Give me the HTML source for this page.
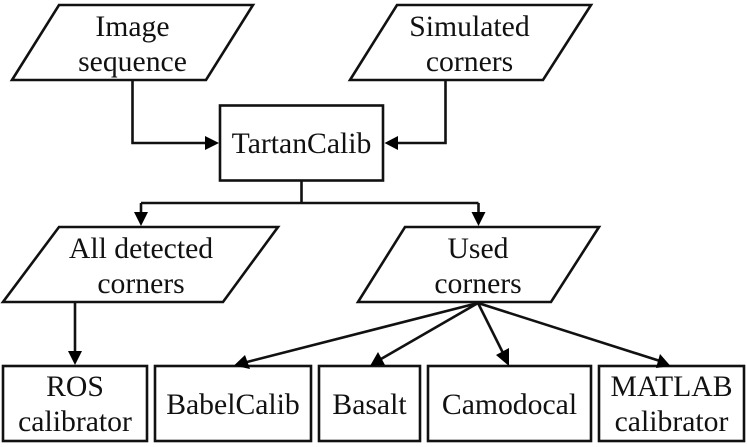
<!DOCTYPE html>
<html>
<head>
<meta charset="utf-8">
<style>
html,body{margin:0;padding:0;background:#fff;width:747px;height:447px;overflow:hidden}
svg{display:block}
text{font-family:"Liberation Serif",serif;font-size:29.7px;fill:#111;text-anchor:middle}
.s{fill:#fff;stroke:#111;stroke-width:2.6;stroke-linejoin:miter}
.l{fill:none;stroke:#111;stroke-width:2.6}
.a{fill:#000;stroke:none}
</style>
</head>
<body>
<svg width="747" height="447" viewBox="0 0 747 447" xmlns="http://www.w3.org/2000/svg">
<polygon class="s" points="59,5 253,5 206,80 12,80"/>
<polygon class="s" points="397,5 591,5 543,80 350,80"/>
<rect class="s" x="220" y="105.500" width="163" height="75"/>
<polygon class="s" points="59,227 278,227 223,302 3,302"/>
<polygon class="s" points="405,227 599,227 551,302 358,302"/>
<rect class="s" x="3" y="366" width="144" height="75"/>
<rect class="s" x="155" y="366" width="156" height="75"/>
<rect class="s" x="319" y="366" width="101" height="75"/>
<rect class="s" x="428" y="366" width="163" height="75"/>
<rect class="s" x="599" y="366" width="145" height="75"/>

<path class="l" d="M132.500 80V143H208"/>
<polygon class="a" points="219,143 205,136 205,150"/>
<path class="l" d="M445.500 80V143H396"/>
<polygon class="a" points="384.500,143 398,136 398,150"/>
<path class="l" d="M301.500 180V203M141 203H478.500M141 203V216M478.500 203V216"/>
<polygon class="a" points="141,226 134,212 148,212"/>
<polygon class="a" points="478.500,226 471.500,212 485.500,212"/>
<path class="l" d="M75 302V354"/>
<polygon class="a" points="75,365 68,351 82,351"/>

<path class="l" d="M478 303L247 362"/>
<polygon class="a" points="234,365.500 245,355 250,369"/>
<path class="l" d="M478 303L381 359"/>
<polygon class="a" points="370,366 378,352 385,365"/>
<path class="l" d="M478 303L503 353"/>
<polygon class="a" points="509,366 509,348 496,355"/>
<path class="l" d="M478 303L660 361"/>
<polygon class="a" points="670.500,366 660,354 656,368"/>

<text x="132.500" y="36">Image</text>
<text x="132.500" y="71">sequence</text>
<text x="469.500" y="36">Simulated</text>
<text x="469.500" y="71">corners</text>
<text x="301.500" y="153">TartanCalib</text>
<text x="141" y="258">All detected</text>
<text x="141" y="293">corners</text>
<text x="478" y="258">Used</text>
<text x="478" y="293">corners</text>
<text x="75" y="396">ROS</text>
<text x="75" y="431">calibrator</text>
<text x="233" y="414">BabelCalib</text>
<text x="369.500" y="414">Basalt</text>
<text x="509.500" y="414">Camodocal</text>
<text x="671.500" y="396">MATLAB</text>
<text x="671.500" y="431">calibrator</text>
</svg>
</body>
</html>
